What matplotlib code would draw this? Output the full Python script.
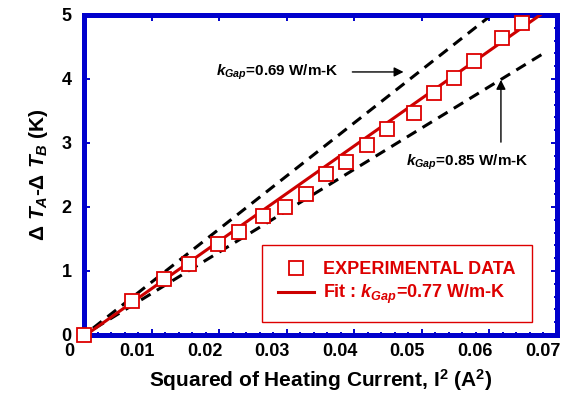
import matplotlib
matplotlib.use("Agg")
import matplotlib.pyplot as plt
import matplotlib.transforms as mtransforms
from matplotlib.ticker import MultipleLocator

# measured data (I^2 in A^2, dT_A - dT_B in K)
i2 = [0.0, 0.0071, 0.0118, 0.0155, 0.0198, 0.0229, 0.0265, 0.0297, 0.0328,
      0.0358, 0.0388, 0.0419, 0.0448, 0.0488, 0.0518, 0.0548, 0.0577, 0.0619, 0.0648]
dT = [0.0, 0.53, 0.875, 1.11, 1.42, 1.61, 1.86, 2.00, 2.20,
      2.52, 2.70, 2.97, 3.22, 3.47, 3.78, 4.02, 4.28, 4.64, 4.875]

# fit line k=0.77 and bounding lines k=0.69 / k=0.85 (end points)
fit_x = [0.0, 0.0675]
fit_y = [-0.02, 5.0]
k069_x = [-0.0008, 0.0603]
k069_y = [-0.07, 5.0]
k085_x = [-0.0008, 0.0680]
k085_y = [-0.05, 4.40]

plt.rcParams['font.family'] = 'Liberation Sans'
plt.rcParams['font.weight'] = 'bold'
plt.rcParams['axes.labelweight'] = 'bold'
plt.rcParams['mathtext.fontset'] = 'custom'
plt.rcParams['mathtext.rm'] = 'Liberation Sans:bold'
plt.rcParams['mathtext.it'] = 'Liberation Sans:italic:bold'
plt.rcParams['mathtext.bf'] = 'Liberation Sans:bold'

blue = '#0000CC'
red = '#DD0000'

fig = plt.figure(figsize=(5.72, 4.04), dpi=100)
ax = fig.add_axes([0.1469, 0.1708, 0.8269, 0.7921])

ax.plot(k069_x, k069_y, color='black', lw=2.2, dashes=(3.6, 2.4), clip_on=False, zorder=2)
ax.plot(k085_x, k085_y, color='black', lw=2.2, dashes=(3.6, 2.4), clip_on=False, zorder=2)
ax.plot(fit_x, fit_y, color='#CC0000', lw=2.2, zorder=3,
        label=r'Fit : $\mathit{k}_{\mathit{Gap}}$=0.77 W/m-K')
ax.plot(i2, dT, linestyle='none', marker='s', ms=10, mfc='white', mec=red, mew=1.3,
        clip_on=False, zorder=4, label='EXPERIMENTAL DATA')

ax.set_xlim(0, 0.07)
ax.set_ylim(0, 5)
ax.xaxis.set_major_locator(MultipleLocator(0.01))
ax.xaxis.set_minor_locator(MultipleLocator(0.002))
ax.yaxis.set_major_locator(MultipleLocator(1))
ax.yaxis.set_minor_locator(MultipleLocator(0.2))
ax.set_xticks([0, 0.01, 0.02, 0.03, 0.04, 0.05, 0.06, 0.07])
ax.set_xticklabels(['0', '0.01', '0.02', '0.03', '0.04', '0.05', '0.06', '0.07'])

for s in ax.spines.values():
    s.set_color(blue)
    s.set_linewidth(3.6)
ax.tick_params(which='both', direction='in', top=True, right=True, color=blue, width=1.4,
               labelsize=13)
ax.tick_params(which='major', length=4.5)
ax.tick_params(which='minor', length=2.5)
ax.tick_params(axis='x', pad=6)
ax.tick_params(axis='y', pad=9)

# x labels sit a bit left of their ticks in the original
shift = mtransforms.ScaledTranslation(-0.145, 0, fig.dpi_scale_trans)
for lab in ax.get_xticklabels():
    lab.set_transform(lab.get_transform() + shift)

ax.set_xlabel(r'Squared of Heating Current, I$^2$ (A$^2$)', fontsize=15, labelpad=5)
ax.set_ylabel(r'$\Delta\ \mathit{T}_{\mathit{A}}$-$\Delta\ \mathit{T}_{\mathit{B}}$ (K)',
              fontsize=15, labelpad=8)

ax.text(0.0195, 4.11, r'$\mathit{k}_{\mathit{Gap}}$=0.69 W/m-K', fontsize=11, va='center')
ax.annotate('', xy=(0.0477, 4.11), xytext=(0.0393, 4.11),
            arrowprops=dict(arrowstyle='-|>', color='black', lw=1, mutation_scale=14))
ax.text(0.0476, 2.69, r'$\mathit{k}_{\mathit{Gap}}$=0.85 W/m-K', fontsize=11, va='center')
ax.annotate('', xy=(0.0617, 4.03), xytext=(0.0617, 2.97),
            arrowprops=dict(arrowstyle='-|>', color='black', lw=1, mutation_scale=14))

handles, labels = ax.get_legend_handles_labels()
leg = ax.legend(handles[::-1], labels[::-1], loc='lower right', bbox_to_anchor=(0.947, 0.04),
                borderaxespad=0, fontsize=13, fancybox=False, framealpha=1,
                edgecolor=red, handlelength=2.0, handletextpad=0.5, labelspacing=0.25,
                borderpad=0.9)
leg.get_frame().set_linewidth(1.0)
for t in leg.get_texts():
    t.set_color(red)

fig.savefig('out.png', dpi=100)
